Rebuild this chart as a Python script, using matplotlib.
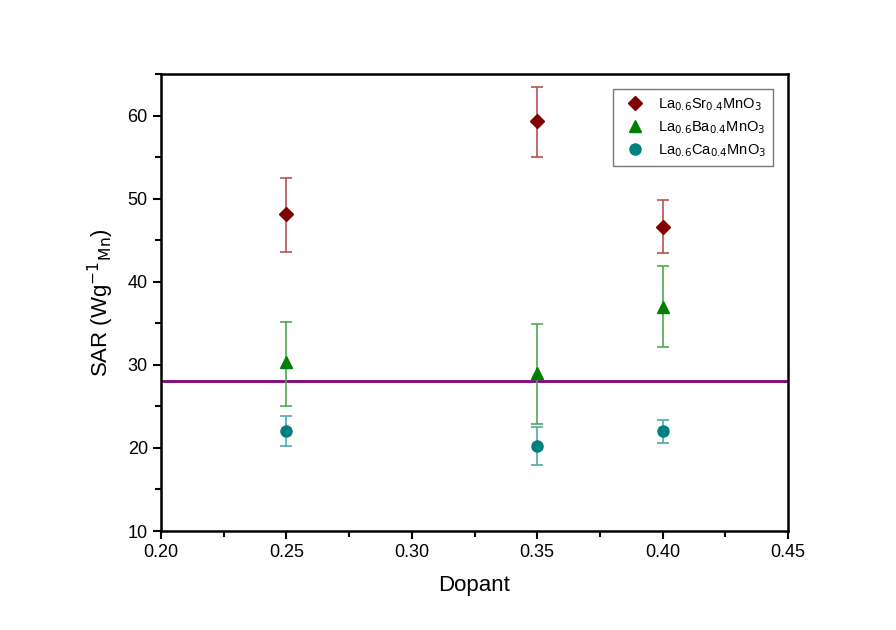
import matplotlib
matplotlib.use("Agg")
import matplotlib.pyplot as plt
from matplotlib.ticker import MultipleLocator

plt.rcParams['font.family'] = ['Liberation Sans', 'DejaVu Sans']

dopant = [0.25, 0.35, 0.40]
sr_vals = [48.1, 59.3, 46.6]
sr_lo = [43.6, 55.0, 43.4]
sr_hi = [52.5, 63.4, 49.8]
ba_vals = [30.3, 29.0, 36.9]
ba_lo = [25.0, 22.9, 32.1]
ba_hi = [35.1, 34.9, 41.9]
ca_vals = [22.0, 20.2, 22.0]
ca_lo = [20.2, 17.9, 20.6]
ca_hi = [23.8, 22.5, 23.3]
ref_level = 28.0

labels = [r'La$_{0.6}$Sr$_{0.4}$MnO$_3$',
          r'La$_{0.6}$Ba$_{0.4}$MnO$_3$',
          r'La$_{0.6}$Ca$_{0.4}$MnO$_3$']

fig = plt.figure(figsize=(8.96, 6.3), dpi=100)
ax = fig.add_axes([161/896, 1-531/630, (788-161)/896, (531-74)/630])

def err(v, lo, hi):
    return [[a - b for a, b in zip(v, lo)], [c - a for a, c in zip(v, hi)]]

series = [
    (sr_vals, sr_lo, sr_hi, 'D', '#800000', '#b85050', 7),
    (ba_vals, ba_lo, ba_hi, '^', '#008000', '#50a850', 9),
    (ca_vals, ca_lo, ca_hi, 'o', '#008080', '#50a8a8', 8),
]
handles = []
for (v, lo, hi, m, c, ec, ms), lab in zip(series, labels):
    ax.errorbar(dopant, v, yerr=err(v, lo, hi), fmt='none', ecolor=ec,
                elinewidth=1.2, capsize=4.5, capthick=1.2, zorder=2)
    h = ax.plot(dopant, v, linestyle='none', marker=m, color=c, markersize=ms,
                label=lab, zorder=3)[0]
    handles.append(h)

ax.axhline(ref_level, color='#800080', linewidth=2, zorder=1)

ax.set_xlim(0.20, 0.45)
ax.set_ylim(10, 65)
ax.xaxis.set_major_locator(MultipleLocator(0.05))
ax.xaxis.set_minor_locator(MultipleLocator(0.025))
ax.yaxis.set_major_locator(MultipleLocator(10))
ax.yaxis.set_minor_locator(MultipleLocator(5))
ax.xaxis.set_major_formatter(matplotlib.ticker.FormatStrFormatter('%.2f'))
ax.tick_params(which='both', direction='out', width=1.5, top=False, right=False)
ax.tick_params(which='major', length=6, labelsize=13)
ax.tick_params(which='minor', length=4)
for s in ax.spines.values():
    s.set_linewidth(1.8)

ax.set_xlabel('Dopant', fontsize=16, labelpad=10)
ax.set_ylabel(r'SAR (Wg$^{-1}$$_{\mathrm{Mn}}$)', fontsize=16, labelpad=8)

leg = ax.legend(handles=handles, loc='upper right', fontsize=10.5,
                frameon=True, fancybox=False, edgecolor='#555555',
                borderaxespad=1.0, handletextpad=0.6, labelspacing=0.45,
                borderpad=0.5)
leg.get_frame().set_linewidth(1.0)

fig.savefig('out.png', dpi=100, facecolor='white')
